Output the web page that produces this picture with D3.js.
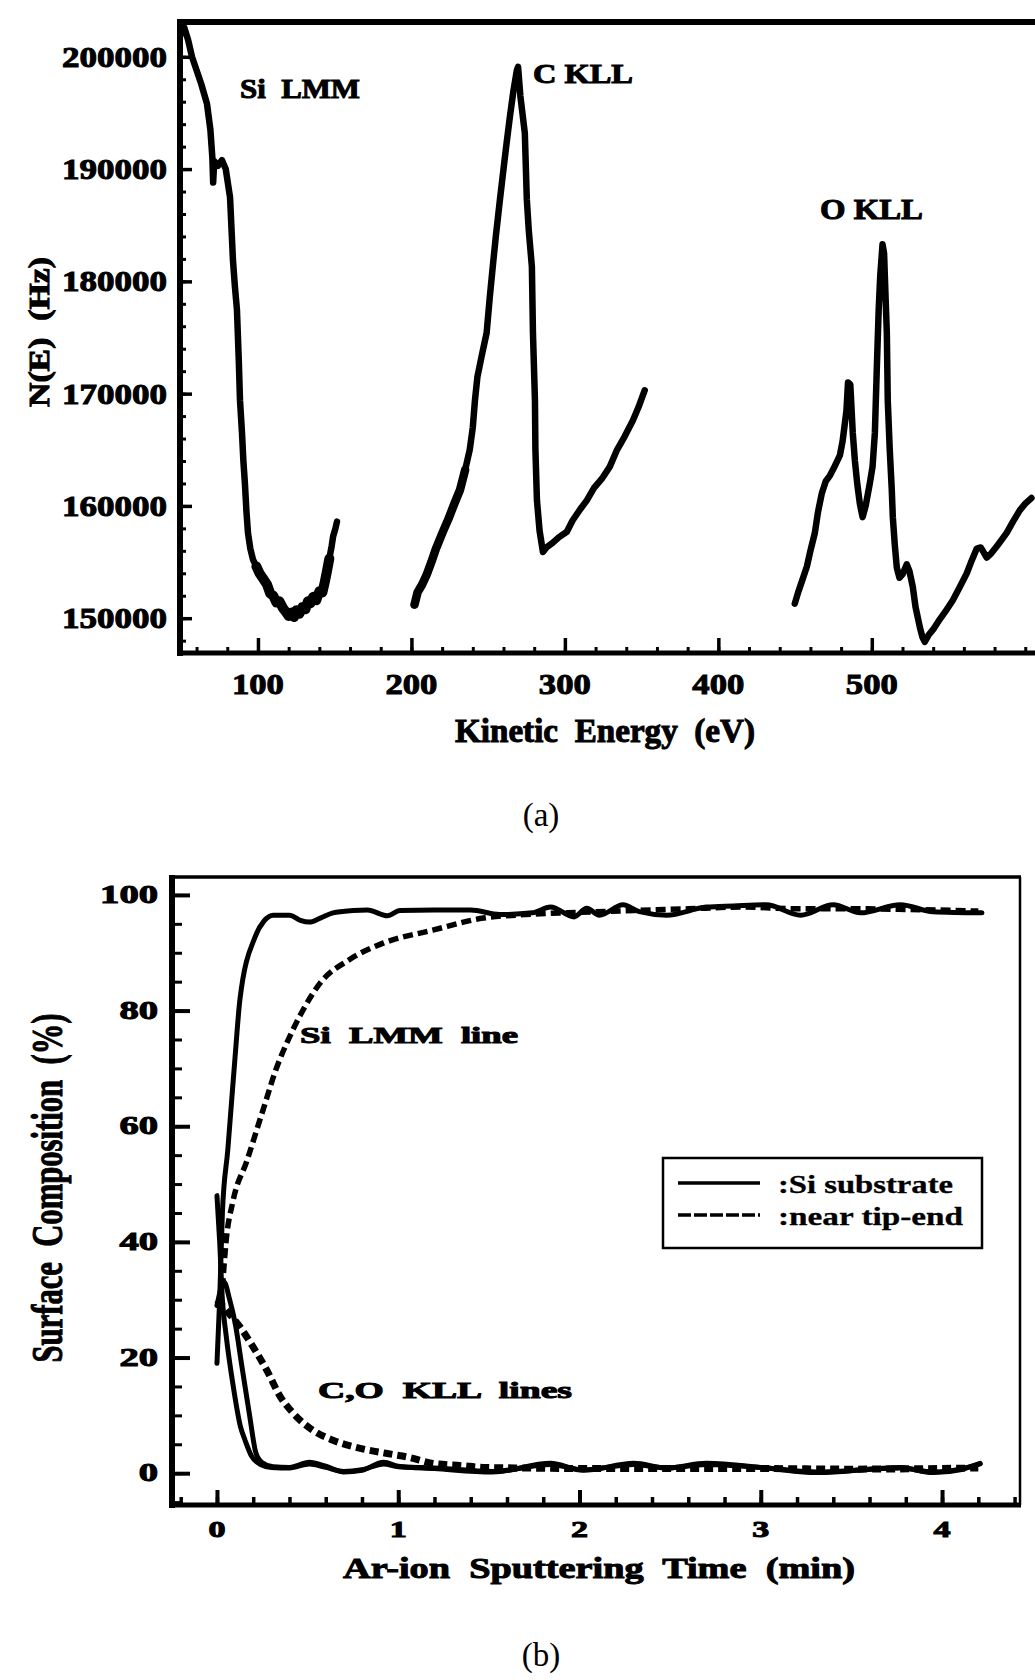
<!DOCTYPE html>
<html><head><meta charset="utf-8">
<script src="https://cdn.jsdelivr.net/npm/d3@7"></script>
<style>body{margin:0;background:#fff} svg{display:block} text{white-space:pre}</style>
</head><body>
<svg id="fig" width="1035" height="1680"></svg>
<script>
// ---------- DATA (a): Auger spectrum, x = kinetic energy (eV), y = N(E) (Hz)
const aSiLMM = [[50,203000],[52,202600],[54.5,201500],[57,200000],[60,198800],[63,197600],[66.8,195800],[69,193500],[70.3,191000],[70.8,188800],[71.5,190700],[74,190300],[76.5,190800],[79,190000],[81.8,187500],[83,184000],[83.7,181900],[85,179500],[86.3,177500],[87.5,173000],[88.3,169400],[89.6,166500],[90.5,164000],[91.5,162000],[92.5,159500],[93.5,157600],[95,156200],[96.8,155200],[99,154600],[101,154000],[103,153600],[105.9,153000],[108,152200],[110,152000],[112,151400],[114,151500],[116.3,150900],[118,150600],[120,150200],[122,150500],[123.5,150100],[125,150700],[127,150400],[129,151000],[131,150800],[132.5,151500],[134,151300],[136,151900],[138,151600],[140,152400],[142,152300],[143.5,153200],[145,154200],[146.5,155300],[148,156400],[149,157300],[150.5,158000],[151.5,158600]];
const aCKLL = [[202,151200],[204,152300],[207,153000],[210,153900],[213,155000],[216,156200],[220.5,157700],[224,158800],[228,160200],[231.6,161400],[235,163200],[238,165000],[240,167000],[241.4,169400],[243,171500],[246,173500],[249,175400],[251,178500],[253,181300],[255,184000],[257.7,187300],[260,190000],[262,192300],[264.2,194700],[266.5,197000],[268.7,198800],[269.5,199100],[271,196500],[273.9,193200],[275.2,187300],[276.5,184500],[278.5,181300],[279.2,175400],[280.5,169400],[280.8,165000],[281.8,160500],[283.5,157800],[285.7,155900],[288,156300],[292,156700],[296,157200],[301.3,157700],[305,158700],[310,159700],[314.3,160500],[319,161600],[324,162400],[329.3,163500],[334,165000],[339,166200],[344.3,167600],[348,168800],[352,170300]];
const aOKLL = [[449.8,151300],[452,152300],[455,153500],[457.7,154600],[460,156000],[462.9,157600],[465,159500],[467.4,161100],[470,162200],[472.7,162700],[475,163300],[479.2,164500],[481,165800],[483.5,168500],[484.5,171000],[486,170800],[487.6,166500],[489,164000],[490.5,162000],[492.2,160200],[494,159000],[496,160000],[498.7,162000],[500.5,163500],[502,166500],[503.3,172400],[504.5,177500],[505.5,180500],[507,183300],[508,182500],[509,178500],[509.8,175400],[510.4,169400],[511.7,165000],[513,161500],[513.7,159000],[515,156500],[516.3,154500],[518,153600],[520,153900],[522.8,154800],[524.5,154200],[526.7,152800],[528.5,151000],[531.3,149200],[533,148300],[534.5,147900],[537,148500],[540,149000],[544.3,149900],[548,150600],[552.8,151600],[557,152700],[561.9,154000],[565,155100],[568.4,156200],[571,156300],[574.9,155400],[578,155800],[582,156500],[587.9,157600],[592,158600],[596.4,159600],[600,160200],[604,160700]];
const aXTicks = [100,200,300,400,500];
const aYTicks = [150000,160000,170000,180000,190000,200000];
const aPeakLabels = ["Si  LMM","C KLL","O KLL"];

// ---------- DATA (b): depth profile, x = sputtering time (min), y = surface composition (%)
const bSiSolid = [[0,19],[0.015,30],[0.03,45],[0.06,56],[0.08,64],[0.1,72],[0.127,82],[0.21,92.7],[0.26,95.5],[0.31,96.5],[0.4,96.5],[0.46,95.6],[0.51,95.3],[0.57,96],[0.64,96.9],[0.75,97.3],[0.83,97.4],[0.94,96.4],[1.01,97.3],[1.2,97.4],[1.4,97.4],[1.56,96.6],[1.74,96.9],[1.84,97.9],[1.97,96.2],[2.04,97.7],[2.11,96.5],[2.24,98.3],[2.33,97.1],[2.48,96.5],[2.7,97.9],[2.85,98.1],[3.03,98.3],[3.22,96.5],[3.4,98.3],[3.55,96.9],[3.77,98.3],[3.95,97.1],[4.22,96.9]];
const bSiDashed = [[0.03,32],[0.05,40],[0.088,47],[0.165,54],[0.254,62.8],[0.33,70.2],[0.4,75.4],[0.475,80.1],[0.57,84.8],[0.73,88.8],[0.92,91.7],[1.19,93.9],[1.47,96],[1.7,96.6],[2.0,97],[2.3,97.3],[2.6,97.6],[2.9,97.9],[3.2,97.6],[3.5,97.6],[3.8,97.5],[4.2,97.2]];
const bCSolid = [[0,48],[0.015,40],[0.03,30],[0.05,24],[0.09,15],[0.13,8],[0.155,5.7],[0.19,3],[0.24,1.5],[0.3,1.0],[0.4,0.9],[0.51,1.6],[0.6,1.0],[0.7,0.3],[0.8,0.6],[0.92,1.6],[1.0,1.1],[1.2,0.9],[1.52,0.3],[1.84,1.5],[2.02,0.6],[2.3,1.5],[2.48,0.9],[2.7,1.5],[3.03,0.9],[3.31,0.2],[3.77,0.9],[3.95,0.2],[4.1,0.7],[4.21,1.6]];
const bOSolid = [[0,29],[0.04,33],[0.07,30],[0.1,26],[0.14,18],[0.18,10],[0.215,3.5],[0.25,1.8],[0.31,1.1],[0.4,1.0],[0.51,1.9],[0.6,1.2],[0.7,0.2],[0.8,0.5],[0.92,1.9],[1.0,1.2],[1.2,0.8],[1.52,0.2],[1.84,1.7],[2.02,0.5],[2.3,1.7],[2.48,0.9],[2.7,1.7],[3.03,0.9],[3.31,0.1],[3.77,1.0],[3.95,0.1],[4.1,0.6],[4.21,1.7]];
const bCODashed = [[0,30],[0.03,29],[0.07,27.5],[0.127,25.3],[0.2,21.8],[0.275,17.8],[0.35,13.2],[0.42,10.4],[0.53,7.4],[0.64,5.7],[0.79,4.3],[0.94,3.4],[1.05,2.8],[1.19,1.7],[1.35,1.3],[1.47,1.0],[1.7,0.9],[2.0,0.8],[2.5,0.8],[3.0,0.8],[3.5,0.7],[4.2,0.9]];
const bXTicks = [0,1,2,3,4];
const bYTicks = [0,20,40,60,80,100];
const bLegend = [[":Si substrate","solid"],[":near tip-end","dashed"]];

// ---------- DRAWING
const svg = d3.select("#fig");
const SERIF = "'Liberation Serif','Times New Roman',serif";
function txt(g, s, x, y, opts) {
  const t = g.append("text").attr("x", x).attr("y", y).text(s)
    .attr("font-family", SERIF).attr("font-size", opts.fs)
    .attr("font-weight", opts.w || "bold").attr("fill", "#000")
    .attr("text-anchor", opts.anchor || "start");
  if (opts.len) t.attr("textLength", opts.len).attr("lengthAdjust", "spacingAndGlyphs");
  if (opts.stroke) t.attr("stroke", "#000").attr("stroke-width", opts.stroke);
  if (opts.rot) t.attr("transform", `rotate(-90,${x},${y})`);
  return t;
}

// ===== (a)
const xa = d3.scaleLinear().domain([49.2, 607]).range([180, 1036]);
const ya = d3.scaleLinear().domain([146900, 203100]).range([653, 22]);
const ga = svg.append("g");

ga.append("g").attr("transform", "translate(0,653)")
  .call(d3.axisBottom(xa).tickValues(d3.range(60, 607, 20)).tickSize(-6).tickFormat(""))
  .call(g => { g.select(".domain").remove(); g.selectAll("line").attr("stroke-width", 3); });
ga.append("g").attr("transform", "translate(0,653)")
  .call(d3.axisBottom(xa).tickValues(aXTicks).tickSize(-15).tickFormat(""))
  .call(g => { g.select(".domain").remove(); g.selectAll("line").attr("stroke-width", 3.5); });
ga.append("g").attr("transform", "translate(180,0)")
  .call(d3.axisLeft(ya).tickValues(d3.range(148000, 203000, 2000)).tickSize(-6).tickFormat(""))
  .call(g => { g.select(".domain").remove(); g.selectAll("line").attr("stroke-width", 3); });
ga.append("g").attr("transform", "translate(180,0)")
  .call(d3.axisLeft(ya).tickValues(aYTicks).tickSize(-12).tickFormat(""))
  .call(g => { g.select(".domain").remove(); g.selectAll("line").attr("stroke-width", 3.5); });

// frame
ga.append("line").attr("x1", 180).attr("x2", 1035).attr("y1", ya.range()[1]).attr("y2", ya.range()[1]).attr("stroke", "#000").attr("stroke-width", 6);
ga.append("line").attr("x1", 180).attr("x2", 180).attr("y1", 19).attr("y2", 656).attr("stroke", "#000").attr("stroke-width", 6);
ga.append("line").attr("x1", 177).attr("x2", 1035).attr("y1", 653).attr("y2", 653).attr("stroke", "#000").attr("stroke-width", 5);

const lineA = d3.line().x(d => xa(d[0])).y(d => ya(d[1]));
[aSiLMM, aCKLL, aOKLL].forEach(seg => {
  ga.append("path").datum(seg).attr("d", lineA).attr("fill", "none")
    .attr("stroke", "#000").attr("stroke-width", 6.5).attr("stroke-linejoin", "round").attr("stroke-linecap", "round");
});
// noisier (thicker) trace near the Si LMM minimum and the C KLL rise
ga.append("path").datum(aSiLMM.filter(d => d[0] > 97 && d[0] < 147)).attr("d", lineA).attr("fill", "none")
  .attr("stroke", "#000").attr("stroke-width", 10).attr("stroke-linejoin", "round").attr("stroke-linecap", "round");
ga.append("path").datum(aCKLL.filter(d => d[0] < 236)).attr("d", lineA).attr("fill", "none")
  .attr("stroke", "#000").attr("stroke-width", 8.5).attr("stroke-linejoin", "round").attr("stroke-linecap", "round");

aYTicks.forEach(v => txt(ga, String(v), 167, ya(v) + 10, {fs: 29, len: 105, anchor: "end", stroke: 1}));
aXTicks.forEach(v => txt(ga, String(v), xa(v), 694, {fs: 30, len: 52, anchor: "middle", stroke: 1}));
txt(ga, "Kinetic  Energy  (eV)", 605, 742, {fs: 34, len: 300, anchor: "middle", stroke: 1});
txt(ga, "N(E)  (Hz)", 49, 332, {fs: 30, len: 150, anchor: "middle", stroke: 1, rot: true});
txt(ga, aPeakLabels[0], 240, 98, {fs: 28, len: 120, stroke: 1});
txt(ga, aPeakLabels[1], 533, 83, {fs: 27, len: 100, stroke: 1});
txt(ga, aPeakLabels[2], 820, 219, {fs: 29, len: 103, stroke: 1});
txt(ga, "(a)", 541, 826, {fs: 33, w: "normal", anchor: "middle"});

// ===== (b)
const xb = d3.scaleLinear().domain([-0.248, 4.43]).range([172, 1020]);
const yb = d3.scaleLinear().domain([-5.5, 103.1]).range([1505, 877]);
const gb = svg.append("g");

gb.append("g").attr("transform", "translate(0,1505)")
  .call(d3.axisBottom(xb).tickValues(d3.range(-0.2, 4.41, 0.2)).tickSize(-8).tickFormat(""))
  .call(g => { g.select(".domain").remove(); g.selectAll("line").attr("stroke-width", 3.5); });
gb.append("g").attr("transform", "translate(0,1505)")
  .call(d3.axisBottom(xb).tickValues(bXTicks).tickSize(-15).tickFormat(""))
  .call(g => { g.select(".domain").remove(); g.selectAll("line").attr("stroke-width", 4); });
gb.append("g").attr("transform", "translate(172,0)")
  .call(d3.axisLeft(yb).tickValues(d3.range(-5, 101, 5)).tickSize(-10).tickFormat(""))
  .call(g => { g.select(".domain").remove(); g.selectAll("line").attr("stroke-width", 3); });
gb.append("g").attr("transform", "translate(172,0)")
  .call(d3.axisLeft(yb).tickValues(bYTicks).tickSize(-18).tickFormat(""))
  .call(g => { g.select(".domain").remove(); g.selectAll("line").attr("stroke-width", 4); });

gb.append("line").attr("x1", 172).attr("x2", 1021).attr("y1", 877).attr("y2", 877).attr("stroke", "#000").attr("stroke-width", 3.5);
gb.append("line").attr("x1", 1020).attr("x2", 1020).attr("y1", 877).attr("y2", 1505).attr("stroke", "#000").attr("stroke-width", 2.5);
gb.append("line").attr("x1", 172).attr("x2", 172).attr("y1", 875).attr("y2", 1508).attr("stroke", "#000").attr("stroke-width", 6);
gb.append("line").attr("x1", 169).attr("x2", 1021).attr("y1", 1505).attr("y2", 1505).attr("stroke", "#000").attr("stroke-width", 5);

const lineB = d3.line().x(d => xb(d[0])).y(d => yb(d[1])).curve(d3.curveMonotoneX);
[bCSolid, bOSolid, bSiSolid].forEach(seg => {
  gb.append("path").datum(seg).attr("d", lineB).attr("fill", "none")
    .attr("stroke", "#000").attr("stroke-width", 5).attr("stroke-linejoin", "round").attr("stroke-linecap", "round");
});
gb.append("path").datum(bSiDashed).attr("d", lineB).attr("fill", "none")
  .attr("stroke", "#000").attr("stroke-width", 5.5).attr("stroke-dasharray", "10,5");
gb.append("path").datum(bCODashed).attr("d", lineB).attr("fill", "none")
  .attr("stroke", "#000").attr("stroke-width", 7).attr("stroke-dasharray", "9,5");

bYTicks.forEach(v => txt(gb, String(v), 158, yb(v) + 8, {fs: 25, len: String(v).length * 19.3, anchor: "end", stroke: 1}));
bXTicks.forEach(v => txt(gb, String(v), xb(v), 1537, {fs: 23, len: 17, anchor: "middle", stroke: 1}));
txt(gb, "Ar-ion  Sputtering  Time  (min)", 599, 1578, {fs: 30, len: 512, anchor: "middle", stroke: 1});
txt(gb, "Surface  Composition  (%)", 62, 1188, {fs: 44, len: 349, anchor: "middle", stroke: 1, rot: true});
txt(gb, "Si  LMM  line", 300, 1043, {fs: 23, len: 218, stroke: 1});
txt(gb, "C,O  KLL  lines", 318, 1398, {fs: 24, len: 254, stroke: 1});

// legend
const lg = gb.append("g");
lg.append("rect").attr("x", 663).attr("y", 1158).attr("width", 319).attr("height", 90)
  .attr("fill", "#fff").attr("stroke", "#000").attr("stroke-width", 2.5);
bLegend.forEach((d, i) => {
  const yy = 1183 + i * 32;
  lg.append("line").attr("x1", 678).attr("x2", 760).attr("y1", yy).attr("y2", yy)
    .attr("stroke", "#000").attr("stroke-width", 3.5).attr("stroke-dasharray", d[1] === "dashed" ? "13,3" : null);
  txt(lg, d[0], 778, yy + 10, {fs: 25, len: i === 0 ? 175 : 185, stroke: 0.3});
});
txt(gb, "(b)", 541, 1666, {fs: 33, w: "normal", anchor: "middle"});
</script>
</body></html>
